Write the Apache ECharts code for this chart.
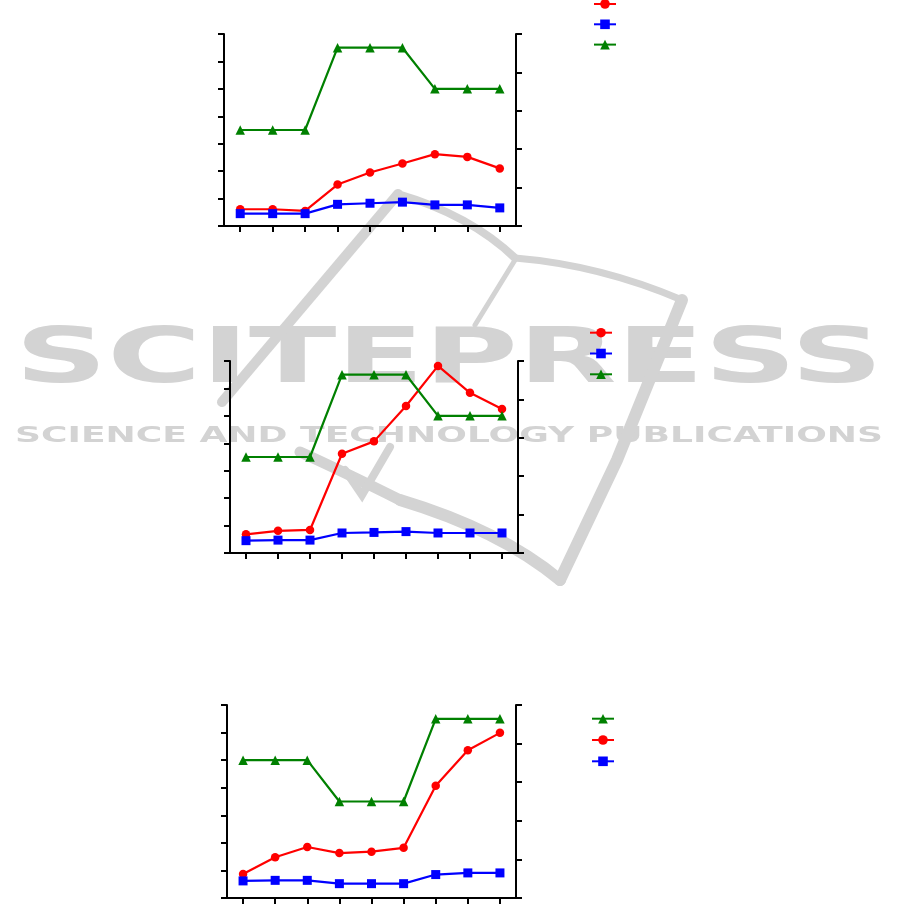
<!DOCTYPE html>
<html>
<head>
<meta charset="utf-8">
<script src="https://cdn.jsdelivr.net/npm/echarts@6/dist/echarts.min.js"></script>
<style>html,body{margin:0;padding:0;background:#fff}#c{width:901px;height:905px}</style>
</head>
<body>
<div id="c"></div>
<script>
// categories (nine points per panel, unlabeled in the figure)
const categories = ['1','2','3','4','5','6','7','8','9'];

// Panel 1
const p1Red   = [0.61, 0.61, 0.55, 1.51, 1.95, 2.28, 2.62, 2.52, 2.10];
const p1Blue  = [0.45, 0.45, 0.45, 0.79, 0.83, 0.87, 0.77, 0.77, 0.66];
const p1Green = [3.5, 3.5, 3.5, 6.5, 6.5, 6.5, 5.0, 5.0, 5.0];

// Panel 2
const p2Red   = [0.68, 0.81, 0.84, 3.62, 4.07, 5.36, 6.82, 5.84, 5.25];
const p2Blue  = [0.45, 0.47, 0.47, 0.73, 0.75, 0.78, 0.73, 0.73, 0.73];
const p2Green = [3.5, 3.5, 3.5, 6.5, 6.5, 6.5, 5.0, 5.0, 5.0];

// Panel 3
const p3Green = [5.0, 5.0, 5.0, 3.5, 3.5, 3.5, 6.5, 6.5, 6.5];
const p3Red   = [0.87, 1.48, 1.85, 1.63, 1.68, 1.82, 4.07, 5.36, 5.99];
const p3Blue  = [0.62, 0.64, 0.64, 0.52, 0.52, 0.52, 0.85, 0.91, 0.91];

// axis scales (tick labels are not shown in the figure)
const leftAxis  = {min: 0, max: 7, interval: 1};
const rightAxis = {min: 0, max: 5, interval: 1};

const chart = echarts.init(document.getElementById('c'), null, {renderer: 'canvas'});

const black = '#000';
const axisLineStyle = {lineStyle: {color: black, width: 2}};
const tickStyle = {show: true, length: 6, lineStyle: {color: black, width: 2}};

const grids = [
  {left: 224, top: 34, width: 292, height: 192},
  {left: 230, top: 361, width: 288, height: 192},
  {left: 227, top: 705, width: 289, height: 193}
];

const xAxes = grids.map((g, i) => ({
  type: 'category', gridIndex: i, data: categories, boundaryGap: true,
  axisLine: axisLineStyle, axisTick: Object.assign({alignWithLabel: true}, tickStyle),
  axisLabel: {show: false}, splitLine: {show: false}
}));

const yAxes = [];
grids.forEach((g, i) => {
  yAxes.push(Object.assign({type: 'value', gridIndex: i, position: 'left',
    axisLine: Object.assign({show: true}, axisLineStyle), axisTick: tickStyle,
    axisLabel: {show: false}, splitLine: {show: false}}, leftAxis));
  yAxes.push(Object.assign({type: 'value', gridIndex: i, position: 'right',
    axisLine: Object.assign({show: true}, axisLineStyle), axisTick: tickStyle,
    axisLabel: {show: false}, splitLine: {show: false}}, rightAxis));
});

const styles = {
  red:   {color: '#ff0000', symbol: 'circle', symbolSize: 8.5},
  blue:  {color: '#0000ff', symbol: 'rect', symbolSize: 9},
  green: {color: '#008000', symbol: 'triangle', symbolSize: 9.5}
};

function mk(name, kind, data, gi) {
  const s = styles[kind];
  return {
    name: name, type: 'line', xAxisIndex: gi, yAxisIndex: gi * 2, data: data,
    symbol: s.symbol, symbolSize: s.symbolSize, showSymbol: true,
    itemStyle: {color: s.color}, lineStyle: {color: s.color, width: 2.2},
    emphasis: {disabled: true}, animation: false, z: 3
  };
}

const series = [
  mk('r1', 'red', p1Red, 0), mk('b1', 'blue', p1Blue, 0), mk('g1', 'green', p1Green, 0),
  mk('r2', 'red', p2Red, 1), mk('b2', 'blue', p2Blue, 1), mk('g2', 'green', p2Green, 1),
  mk('g3', 'green', p3Green, 2), mk('r3', 'red', p3Red, 2), mk('b3', 'blue', p3Blue, 2)
];

function legend(names, left, top, gap) {
  return {
    data: names, orient: 'vertical', left: left, top: top,
    itemWidth: 22, itemHeight: 12, itemGap: gap, padding: 0,
    formatter: function () { return ''; }, selectedMode: false,
    textStyle: {fontSize: 1}
  };
}

// watermark text fitting
function fit(text, font, w) {
  const ctx = document.createElement('canvas').getContext('2d');
  ctx.font = font;
  return w / ctx.measureText(text).width;
}
const wmColor = '#d3d3d3';
const f1 = 'bold 77px "DejaVu Sans"';
const f2 = 'bold 21px "DejaVu Sans"';
const t1 = 'SCITEPRESS';
const t2 = 'SCIENCE AND TECHNOLOGY PUBLICATIONS';

function stroke(w) { return {fill: 'none', stroke: wmColor, lineWidth: w, lineCap: 'round'}; }

const graphic = [
  {type: 'text', z: -10, x: 15, y: 362, scaleX: fit(t1, f1, 868), scaleY: 1,
    style: {text: t1, font: f1, fill: wmColor, verticalAlign: 'middle', align: 'left'}},
  {type: 'text', z: -10, x: 15, y: 437, scaleX: fit(t2, f2, 868), scaleY: 1,
    style: {text: t2, font: f2, fill: wmColor, verticalAlign: 'middle', align: 'left'}},
  {type: 'polyline', z: -10, shape: {points: [[222, 402], [398, 194]]}, style: stroke(10)},
  {type: 'bezierCurve', z: -10, shape: {x1: 398, y1: 194, cpx1: 470, cpy1: 215, x2: 515, y2: 258}, style: stroke(8)},
  {type: 'bezierCurve', z: -10, shape: {x1: 515, y1: 258, cpx1: 600, cpy1: 265, x2: 682, y2: 300}, style: stroke(7)},
  {type: 'polyline', z: -10, shape: {points: [[682, 300], [617, 460], [560, 580]]}, style: stroke(12)},
  {type: 'bezierCurve', z: -10, shape: {x1: 560, y1: 580, cpx1: 500, cpy1: 530, x2: 400, y2: 500}, style: stroke(12)},
  {type: 'bezierCurve', z: -10, shape: {x1: 400, y1: 500, cpx1: 340, cpy1: 470, x2: 300, y2: 452}, style: stroke(11)},
  {type: 'polyline', z: -10, shape: {points: [[515, 260], [475, 325]]}, style: stroke(5)},
  {type: 'polyline', z: -10, shape: {points: [[345, 470], [362, 495], [390, 447]]}, style: stroke(8)}
];

chart.setOption({
  animation: false,
  backgroundColor: '#fff',
  grid: grids,
  xAxis: xAxes,
  yAxis: yAxes,
  legend: [
    legend(['r1', 'b1', 'g1'], 593, -2, 9.5),
    legend(['r2', 'b2', 'g2'], 589, 326.7, 10),
    legend(['g3', 'r3', 'b3'], 591, 712.7, 10.5)
  ],
  graphic: graphic,
  series: series
});
</script>
</body>
</html>
